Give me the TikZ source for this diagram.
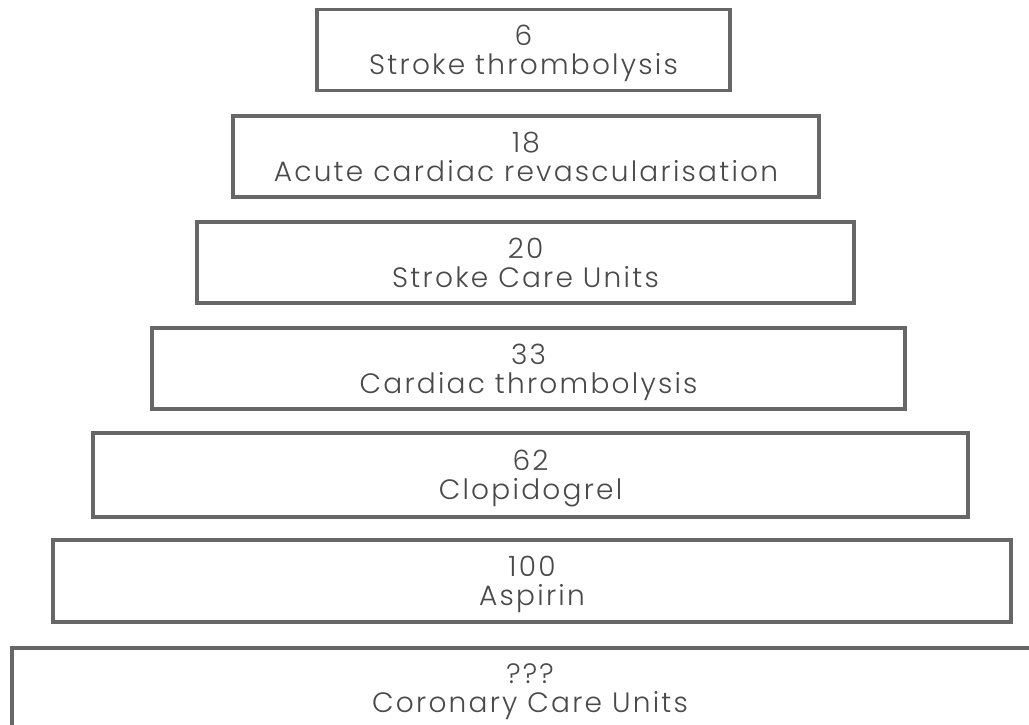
\documentclass[tikz,border=0pt]{standalone}
\usepackage{fontspec}
\setmainfont{Poppins}[UprightFont=* Light, LetterSpace=8]
\usetikzlibrary{positioning}
\definecolor{cVien}{HTML}{676767}
\definecolor{cChu}{HTML}{4A4A4A}
\def\Lstrokelysis{6\\Stroke thrombolysis}
\def\Lrevasc{18\\Acute cardiac revascularisation}
\def\Lstrokeunit{20\\Stroke Care Units}
\def\Lcardiaclysis{33\\Cardiac thrombolysis}
\def\Lclopidogrel{62\\Clopidogrel}
\def\Laspirin{100\\Aspirin}
\def\Lcoronary{???\\Coronary Care Units}

\begin{document}
\begin{tikzpicture}[
  x=1pt, y=-1pt,
  tang/.style={
    draw=cVien, line width=3.6pt, fill=white, inner sep=0pt,
    align=center, minimum height=81pt, text depth=-7pt,
    font=\fontsize{28}{29}\selectfont, text=cChu
  }
]

% ── Khung anh: 1029 x 725 diem anh ──
\useasboundingbox (0,0) rectangle (1029,725);
\clip (0,0) rectangle (1029,725);

% ── Bay tang, tu hep o tren den rong o duoi ──
\node[tang, minimum width=413pt] (strokelysis)   at (523.5, 50)  {\Lstrokelysis};
\node[tang, minimum width=586pt] (revasc)        at (526, 156.5) {\Lrevasc};
\node[tang, minimum width=657pt] (strokeunit)    at (525.5,262.5){\Lstrokeunit};
\node[tang, minimum width=753pt] (cardiaclysis)  at (528.5,368.5){\Lcardiaclysis};
\node[tang, minimum width=875pt, minimum height=84pt] (clopidogrel) at (530.5,475) {\Lclopidogrel};
\node[tang, minimum width=958pt, minimum height=82pt] (aspirin) at (532, 581) {\Laspirin};
% tang cuoi bi cat o mep phai va mep duoi
\node[tang, minimum width=1036pt] (coronary)     at (530, 688.5) {\Lcoronary};

\end{tikzpicture}
\end{document}
